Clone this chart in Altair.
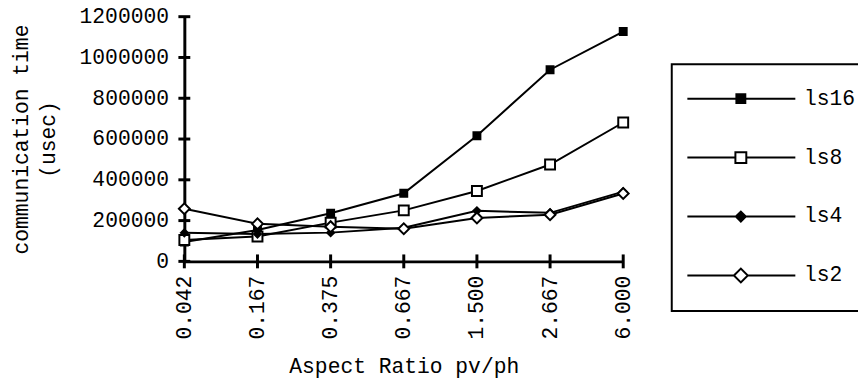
import altair as alt
import pandas as pd

# ---- data ----
ratios = ["0.042", "0.167", "0.375", "0.667", "1.500", "2.667", "6.000"]
series = ["ls16", "ls8", "ls4", "ls2"]
ls16 = [95000, 154000, 236000, 334000, 616000, 940000, 1127000]
ls8 = [105000, 122000, 190000, 250000, 345000, 475000, 681000]
ls4 = [140000, 134000, 141000, 165000, 248000, 238000, 342000]
ls2 = [258000, 184000, 170000, 160000, 213000, 229000, 333000]
y_ticks = [0, 200000, 400000, 600000, 800000, 1000000, 1200000]
y_title = ["communication time", "(usec)"]
x_title = "Aspect Ratio pv/ph"

# ---- styles ----
marker_shapes = ["square", "square", "diamond", "diamond"]
marker_fills = ["black", "white", "black", "white"]
marker_strokes = ["black", "black", "black", "black"]
marker_sizes = [49, 100, 49, 121]
legend_paths = [
    "M-19,0H90M30.5,-4.5H39.5V4.5H30.5Z",
    "M-19,0H29.5M40.5,0H90M29.5,-5.5H40.5V5.5H29.5Z",
    "M-19,0H90M30,0L35,-5L40,0L35,5Z",
    "M-19,0H28M42,0H90M28,0L35,-7L42,0L35,7Z",
]
FONT = "Liberation Mono"
FS = 21.5

rows = []
for s, vals in zip(series, [ls16, ls8, ls4, ls2]):
    for r, v in zip(ratios, vals):
        rows.append({"series": s, "ratio": r, "value": v})
df = pd.DataFrame(rows)
# tick tables: x ticks sit on the zero line, y ticks on the first category
df_xt = pd.DataFrame({"ratio": ratios, "value": [y_ticks[0]] * len(ratios)})
df_yt = pd.DataFrame({"value": y_ticks, "ratio": [ratios[0]] * len(y_ticks)})

base = alt.Chart(df)

x_scale = alt.Scale(type="point", padding=0)
y_scale = alt.Scale(domain=[0, 1200000], nice=False)

x_axis = alt.Axis(
    title=x_title, labelAngle=270, labelAlign="right", labelBaseline="middle",
    labelFont=FONT, labelFontSize=FS, labelColor="black", labelPadding=14,
    ticks=False, tickSize=0, domainColor="black", domainWidth=3, grid=False,
    titleFont=FONT, titleFontSize=FS, titleFontWeight="normal", titleColor="black",
    titlePadding=17,
)
y_axis = alt.Axis(
    values=y_ticks, format="d", title=y_title,
    labelFont=FONT, labelFontSize=FS, labelColor="black", labelPadding=16,
    ticks=False, tickSize=0, domainColor="black", domainWidth=3, grid=False,
    titleFont=FONT, titleFontSize=FS, titleFontWeight="normal", titleColor="black",
    titleLineHeight=27, titlePadding=20,
)
# every layer carries the same axis definition so the shared axes merge cleanly
x_enc = alt.X("ratio:O", sort=ratios, scale=x_scale, axis=x_axis)
y_enc = alt.Y("value:Q", scale=y_scale, axis=y_axis)

lines = base.mark_line(color="black", strokeWidth=2).encode(
    x=x_enc, y=y_enc, detail="series:N",
    order=alt.Order("series:N"),
)

# one point layer per series, drawn in legend order (ls2 on top)
point_layers = []
for i, s in enumerate(series):
    point_layers.append(
        base.transform_filter(alt.datum.series == s)
        .mark_point(
            opacity=1, stroke="black", strokeWidth=2,
            shape=marker_shapes[i], fill=marker_fills[i], size=marker_sizes[i],
        )
        .encode(x=x_enc, y=y_enc)
    )

# crossing tick marks of the axes, placed through the scales (drawn last)
x_ticks_layer = alt.Chart(df_xt).mark_tick(
    orient="vertical", color="black", thickness=3, size=14, opacity=1
).encode(x=x_enc, y=y_enc)
y_ticks_layer = alt.Chart(df_yt).mark_tick(
    orient="horizontal", color="black", thickness=3, size=12, opacity=1
).encode(x=x_enc, y=y_enc)

leg = alt.Legend(
    title=None, orient="none", legendX=492, legendY=48,
    labelFont=FONT, labelFontSize=FS, labelColor="black", labelOffset=88,
    padding=24, rowPadding=36.5, strokeColor="black", fillColor="white",
    symbolSize=4, symbolStrokeWidth=2, symbolStrokeColor="black", symbolOpacity=1,
)
legend_layer = base.transform_filter("false").mark_point(
    opacity=1, stroke="black", strokeWidth=2
).encode(
    shape=alt.Shape("series:N", scale=alt.Scale(domain=series, range=legend_paths), legend=leg),
    fill=alt.Fill("series:N", scale=alt.Scale(domain=series, range=marker_fills), legend=leg),
    stroke=alt.Stroke("series:N", scale=alt.Scale(domain=series, range=marker_strokes), legend=leg),
)

chart = (
    alt.layer(lines, *point_layers, legend_layer, x_ticks_layer, y_ticks_layer)
    .properties(
        width=443, height=247,
        background="white",
        autosize=alt.AutoSizeParams(type="none"),
        padding={"left": 178, "top": 7, "right": 237, "bottom": 121},
    )
    .configure_view(stroke="transparent", strokeWidth=0)
    .configure_legend(strokeWidth=2)
)

chart.save("out.html", embed_options={"renderer": "svg", "actions": False})
